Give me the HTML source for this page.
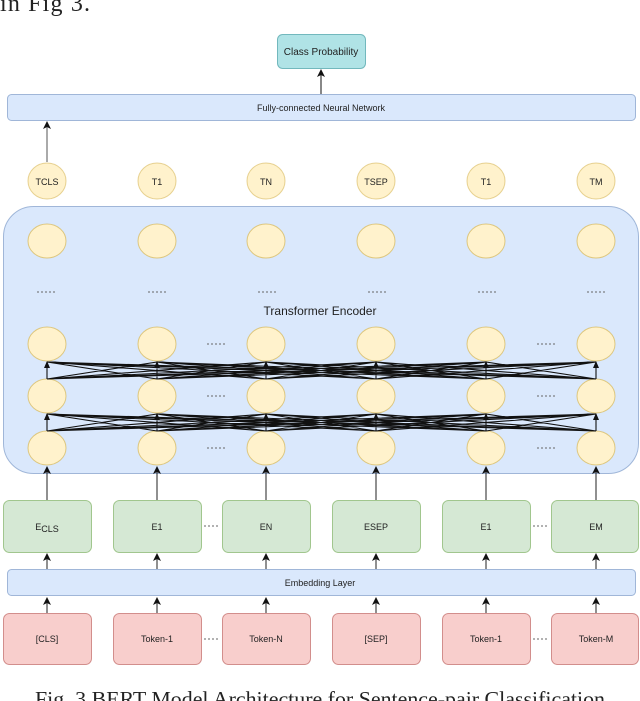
<!DOCTYPE html>
<html><head><meta charset="utf-8"><style>
html,body{margin:0;padding:0;background:#fff;}
svg{display:block;}
text{font-family:"Liberation Sans",sans-serif;fill:#222;}
</style></head><body>
<svg width="640" height="701" viewBox="0 0 640 701" xmlns="http://www.w3.org/2000/svg">
<defs>
<marker id="a" markerWidth="8" markerHeight="8" refX="7" refY="4" orient="auto" markerUnits="userSpaceOnUse">
<path d="M0,0 L8,4 L0,8 L2,4 z" fill="#111"/></marker>
</defs>
<text x="0" y="11" style="font-family:'Liberation Serif',serif;font-size:24px" textLength="90">in Fig 3.</text>

<!-- Class probability -->
<rect x="277.5" y="34.5" width="88" height="34" rx="5" fill="#b0e3e6" stroke="#0e8088" stroke-opacity="0.5"/>
<text x="321" y="55" font-size="10" text-anchor="middle">Class Probability</text>
<line x1="321" y1="94" x2="321" y2="70" stroke="#111" marker-end="url(#a)"/>

<!-- FC -->
<rect x="7.5" y="94.5" width="628" height="26" rx="4" fill="#dae8fc" stroke="#6c8ebf" stroke-opacity="0.6"/>
<text x="321" y="111" font-size="9" text-anchor="middle">Fully-connected Neural Network</text>
<line x1="47" y1="162" x2="47" y2="122" stroke="#555" marker-end="url(#a)"/>

<!-- T circles -->
<g fill="#fff2cc" stroke="#d6b656" stroke-opacity="0.6">
<ellipse cx="47" cy="181" rx="19" ry="18"/><ellipse cx="157" cy="181" rx="19" ry="18"/>
<ellipse cx="266" cy="181" rx="19" ry="18"/><ellipse cx="376" cy="181" rx="19" ry="18"/>
<ellipse cx="486" cy="181" rx="19" ry="18"/><ellipse cx="596" cy="181" rx="19" ry="18"/>
</g>
<g font-size="9" text-anchor="middle">
<text x="47" y="185">TCLS</text><text x="157" y="185">T1</text><text x="266" y="185">TN</text>
<text x="376" y="185">TSEP</text><text x="486" y="185">T1</text><text x="596" y="185">TM</text>
</g>

<!-- Encoder -->
<rect x="3.5" y="206.5" width="635" height="267" rx="30" fill="#dae8fc" stroke="#6c8ebf" stroke-opacity="0.6"/>
<text x="320" y="315" font-size="12" text-anchor="middle">Transformer Encoder</text>
<g fill="#fff2cc" stroke="#d6b656" stroke-opacity="0.7">
<ellipse cx="47" cy="241" rx="19" ry="17"/><ellipse cx="157" cy="241" rx="19" ry="17"/><ellipse cx="266" cy="241" rx="19" ry="17"/><ellipse cx="376" cy="241" rx="19" ry="17"/><ellipse cx="486" cy="241" rx="19" ry="17"/><ellipse cx="596" cy="241" rx="19" ry="17"/>
<ellipse cx="47" cy="344" rx="19" ry="17"/><ellipse cx="157" cy="344" rx="19" ry="17"/><ellipse cx="266" cy="344" rx="19" ry="17"/><ellipse cx="376" cy="344" rx="19" ry="17"/><ellipse cx="486" cy="344" rx="19" ry="17"/><ellipse cx="596" cy="344" rx="19" ry="17"/>
<ellipse cx="47" cy="396" rx="19" ry="17"/><ellipse cx="157" cy="396" rx="19" ry="17"/><ellipse cx="266" cy="396" rx="19" ry="17"/><ellipse cx="376" cy="396" rx="19" ry="17"/><ellipse cx="486" cy="396" rx="19" ry="17"/><ellipse cx="596" cy="396" rx="19" ry="17"/>
<ellipse cx="47" cy="448" rx="19" ry="17"/><ellipse cx="157" cy="448" rx="19" ry="17"/><ellipse cx="266" cy="448" rx="19" ry="17"/><ellipse cx="376" cy="448" rx="19" ry="17"/><ellipse cx="486" cy="448" rx="19" ry="17"/><ellipse cx="596" cy="448" rx="19" ry="17"/>
</g>
<g stroke="#666" stroke-dasharray="2,2" stroke-width="1">
<line x1="37" y1="292" x2="55" y2="292"/><line x1="148" y1="292" x2="166" y2="292"/><line x1="258" y1="292" x2="276" y2="292"/><line x1="368" y1="292" x2="386" y2="292"/><line x1="478" y1="292" x2="496" y2="292"/><line x1="587" y1="292" x2="605" y2="292"/>
<line x1="207" y1="344" x2="225" y2="344"/><line x1="207" y1="396" x2="225" y2="396"/><line x1="207" y1="448" x2="225" y2="448"/>
<line x1="537" y1="344" x2="555" y2="344"/><line x1="537" y1="396" x2="555" y2="396"/><line x1="537" y1="448" x2="555" y2="448"/>
</g>
<!-- all-to-all connections -->
<g stroke="#111" stroke-width="1.1" fill="none">
<path d="M47,379L47,362M47,379L157,362M47,379L266,362M47,379L376,362M47,379L486,362M47,379L596,362
M157,379L47,362M157,379L157,362M157,379L266,362M157,379L376,362M157,379L486,362M157,379L596,362
M266,379L47,362M266,379L157,362M266,379L266,362M266,379L376,362M266,379L486,362M266,379L596,362
M376,379L47,362M376,379L157,362M376,379L266,362M376,379L376,362M376,379L486,362M376,379L596,362
M486,379L47,362M486,379L157,362M486,379L266,362M486,379L376,362M486,379L486,362M486,379L596,362
M596,379L47,362M596,379L157,362M596,379L266,362M596,379L376,362M596,379L486,362M596,379L596,362"/>
<path d="M47,431L47,414M47,431L157,414M47,431L266,414M47,431L376,414M47,431L486,414M47,431L596,414
M157,431L47,414M157,431L157,414M157,431L266,414M157,431L376,414M157,431L486,414M157,431L596,414
M266,431L47,414M266,431L157,414M266,431L266,414M266,431L376,414M266,431L486,414M266,431L596,414
M376,431L47,414M376,431L157,414M376,431L266,414M376,431L376,414M376,431L486,414M376,431L596,414
M486,431L47,414M486,431L157,414M486,431L266,414M486,431L376,414M486,431L486,414M486,431L596,414
M596,431L47,414M596,431L157,414M596,431L266,414M596,431L376,414M596,431L486,414M596,431L596,414"/>
</g>
<g fill="#111">
<path d="M47,361l-3,7h6z"/><path d="M157,361l-3,7h6z"/><path d="M266,361l-3,7h6z"/><path d="M376,361l-3,7h6z"/><path d="M486,361l-3,7h6z"/><path d="M596,361l-3,7h6z"/>
<path d="M47,413l-3,7h6z"/><path d="M157,413l-3,7h6z"/><path d="M266,413l-3,7h6z"/><path d="M376,413l-3,7h6z"/><path d="M486,413l-3,7h6z"/><path d="M596,413l-3,7h6z"/>
</g>

<!-- E -> encoder arrows -->
<g stroke="#222">
<line x1="47" y1="500" x2="47" y2="467" marker-end="url(#a)"/><line x1="157" y1="500" x2="157" y2="467" marker-end="url(#a)"/><line x1="266" y1="500" x2="266" y2="467" marker-end="url(#a)"/><line x1="376" y1="500" x2="376" y2="467" marker-end="url(#a)"/><line x1="486" y1="500" x2="486" y2="467" marker-end="url(#a)"/><line x1="596" y1="500" x2="596" y2="467" marker-end="url(#a)"/>
<line x1="47" y1="569" x2="47" y2="554" marker-end="url(#a)"/><line x1="157" y1="569" x2="157" y2="554" marker-end="url(#a)"/><line x1="266" y1="569" x2="266" y2="554" marker-end="url(#a)"/><line x1="376" y1="569" x2="376" y2="554" marker-end="url(#a)"/><line x1="486" y1="569" x2="486" y2="554" marker-end="url(#a)"/><line x1="596" y1="569" x2="596" y2="554" marker-end="url(#a)"/>
<line x1="47" y1="613" x2="47" y2="598" marker-end="url(#a)"/><line x1="157" y1="613" x2="157" y2="598" marker-end="url(#a)"/><line x1="266" y1="613" x2="266" y2="598" marker-end="url(#a)"/><line x1="376" y1="613" x2="376" y2="598" marker-end="url(#a)"/><line x1="486" y1="613" x2="486" y2="598" marker-end="url(#a)"/><line x1="596" y1="613" x2="596" y2="598" marker-end="url(#a)"/>
</g>

<!-- E boxes -->
<g fill="#d5e8d4" stroke="#82b366" stroke-opacity="0.7">
<rect x="3.5" y="500.5" width="88" height="52" rx="6"/><rect x="113.5" y="500.5" width="88" height="52" rx="6"/><rect x="222.5" y="500.5" width="88" height="52" rx="6"/><rect x="332.5" y="500.5" width="88" height="52" rx="6"/><rect x="442.5" y="500.5" width="88" height="52" rx="6"/><rect x="551.5" y="500.5" width="87" height="52" rx="6"/>
</g>
<g font-size="9" text-anchor="middle">
<text x="47" y="530">E<tspan dy="2">CLS</tspan></text><text x="157" y="530">E1</text><text x="266" y="530">EN</text><text x="376" y="530">ESEP</text><text x="486" y="530">E1</text><text x="596" y="530">EM</text>
</g>

<!-- Embedding layer -->
<rect x="7.5" y="569.5" width="628" height="26" rx="4" fill="#dae8fc" stroke="#6c8ebf" stroke-opacity="0.6"/>
<text x="320" y="586" font-size="9" text-anchor="middle">Embedding Layer</text>

<!-- Tokens -->
<g fill="#f8cecc" stroke="#b85450" stroke-opacity="0.6">
<rect x="3.5" y="613.5" width="88" height="51" rx="6"/><rect x="113.5" y="613.5" width="88" height="51" rx="6"/><rect x="222.5" y="613.5" width="88" height="51" rx="6"/><rect x="332.5" y="613.5" width="88" height="51" rx="6"/><rect x="442.5" y="613.5" width="88" height="51" rx="6"/><rect x="551.5" y="613.5" width="87" height="51" rx="6"/>
</g>
<g font-size="9" text-anchor="middle">
<text x="47" y="642">[CLS]</text><text x="157" y="642">Token-1</text><text x="266" y="642">Token-N</text><text x="376" y="642">[SEP]</text><text x="486" y="642">Token-1</text><text x="596" y="642">Token-M</text>
</g>
<g stroke="#666" stroke-dasharray="2,2">
<line x1="204" y1="526" x2="220" y2="526"/><line x1="533" y1="526" x2="549" y2="526"/>
<line x1="204" y1="639" x2="220" y2="639"/><line x1="533" y1="639" x2="549" y2="639"/>
</g>

<text x="35" y="706" style="font-family:'Liberation Serif',serif;font-size:21px" textLength="570" lengthAdjust="spacingAndGlyphs">Fig. 3 BERT Model Architecture for Sentence-pair Classification</text>
</svg>
</body></html>
